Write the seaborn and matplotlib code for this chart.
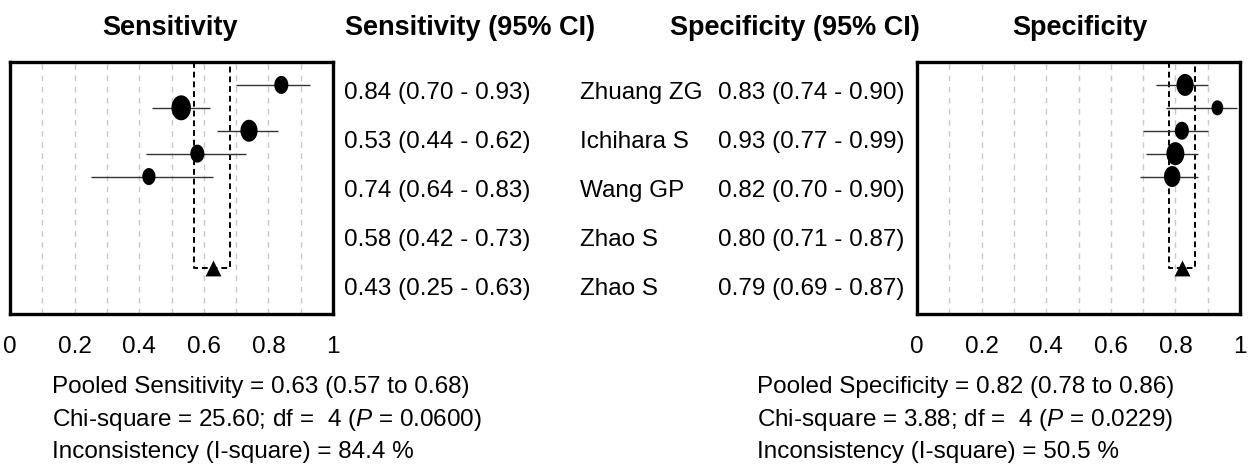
import numpy as np
import matplotlib
matplotlib.use('Agg')
import matplotlib.pyplot as plt
from matplotlib.path import Path
import seaborn as sns

sns.set_theme(style='white')
plt.rcParams['font.family'] = ['Liberation Sans', 'DejaVu Sans']
plt.rcParams['text.color'] = 'black'
plt.rcParams['xtick.color'] = 'black'
plt.rcParams['mathtext.fontset'] = 'custom'
plt.rcParams['mathtext.it'] = 'Liberation Sans:italic'
plt.rcParams['mathtext.rm'] = 'Liberation Sans'

# data
studies = ['Zhuang ZG', 'Ichihara S', 'Wang GP', 'Zhao S', 'Zhao S']
sens = [0.84, 0.53, 0.74, 0.58, 0.43]
sens_lo = [0.70, 0.44, 0.64, 0.42, 0.25]
sens_hi = [0.93, 0.62, 0.83, 0.73, 0.63]
sens_w = [18, 25, 22, 18, 17]      # relative study weight (marker height)
spec = [0.83, 0.93, 0.82, 0.80, 0.79]
spec_lo = [0.74, 0.77, 0.70, 0.71, 0.69]
spec_hi = [0.90, 0.99, 0.90, 0.87, 0.87]
spec_w = [22, 15, 18, 23, 21]
pooled_sens = [0.63, 0.57, 0.68]
pooled_spec = [0.82, 0.78, 0.86]
sens_stats = ['25.60', '4', '0.0600', '84.4']
spec_stats = ['3.88', '4', '0.0229', '50.5']
xticks = [0, 0.2, 0.4, 0.6, 0.8, 1]
xticklabels = ['0', '0.2', '0.4', '0.6', '0.8', '1']

W, H = 1254, 470
FS = 17.5
fig = plt.figure(figsize=(W / 100, H / 100), dpi=100)

# vertical ellipse marker
t = np.linspace(0, 2 * np.pi, 60)
ellipse = Path(np.column_stack([0.78 * np.cos(t), np.sin(t)]))

rows = np.arange(len(studies))
pool_row = 8


def forest(ax, est, lo, hi, wts, pooled):
    for g in np.arange(0.1, 1.0, 0.1):
        ax.axvline(g, color='#c8c8c8', lw=1, ls=(0, (4, 4)), zorder=0)
    ax.hlines(rows, lo, hi, color='#333333', lw=1, zorder=2)
    # pooled estimate box
    ax.plot([pooled[1], pooled[1], pooled[2], pooled[2]],
            [-1, pool_row, pool_row, -1], color='black', lw=1.4,
            ls=(0, (3, 2)), zorder=1)
    sizes = (np.array(wts) * 0.72) ** 2
    sns.scatterplot(x=est, y=rows, s=sizes, marker=ellipse, color='black',
                    linewidth=0, ax=ax, zorder=3, legend=False)
    sns.scatterplot(x=[pooled[0]], y=[pool_row], s=130, marker='^',
                    color='black', linewidth=0, ax=ax, zorder=3, legend=False)
    ax.set_xlim(0, 1)
    ax.set_ylim(10, -1)
    ax.set_yticks([])
    ax.set_xticks(xticks)
    ax.set_xticklabels(xticklabels, fontsize=FS)
    ax.tick_params(axis='x', length=0, pad=16)
    for s in ax.spines.values():
        s.set_linewidth(2.4)
        s.set_color('black')
    ax.set_xlabel('')
    ax.set_ylabel('')


axl = fig.add_axes([10 / W, 156 / H, 323 / W, 252 / H])
forest(axl, sens, sens_lo, sens_hi, sens_w, pooled_sens)
axr = fig.add_axes([917 / W, 156 / H, 323 / W, 252 / H])
forest(axr, spec, spec_lo, spec_hi, spec_w, pooled_spec)

# headers
hdr = dict(fontsize=19.5, fontweight='bold', ha='center', va='center')
fig.text(170 / W, 1 - 28 / H, 'Sensitivity', **hdr)
fig.text(470 / W, 1 - 28 / H, 'Sensitivity (95% CI)', **hdr)
fig.text(795 / W, 1 - 28 / H, 'Specificity (95% CI)', **hdr)
fig.text(1080 / W, 1 - 28 / H, 'Specificity', **hdr)

# middle table
text_y = [93, 142, 191, 240, 289]
for i in rows:
    y = 1 - text_y[i] / H
    fig.text(344 / W, y, f'{sens[i]:.2f} ({sens_lo[i]:.2f} - {sens_hi[i]:.2f})',
             fontsize=FS, va='center')
    fig.text(580 / W, y, studies[i], fontsize=FS, va='center')
    fig.text(718 / W, y, f'{spec[i]:.2f} ({spec_lo[i]:.2f} - {spec_hi[i]:.2f})',
             fontsize=FS, va='center')

# summary statistics
for x0, name, p, st in [(52, 'Sensitivity', pooled_sens, sens_stats),
                        (757, 'Specificity', pooled_spec, spec_stats)]:
    lines = [f'Pooled {name} = {p[0]:.2f} ({p[1]:.2f} to {p[2]:.2f})',
             f'Chi-square = {st[0]}; df =  {st[1]} ($\\it{{P}}$ = {st[2]})',
             f'Inconsistency (I-square) = {st[3]} %']
    for yy, ln in zip([387, 420, 452], lines):
        fig.text(x0 / W, 1 - yy / H, ln, fontsize=FS, va='center')

fig.savefig('out.png', dpi=100)
